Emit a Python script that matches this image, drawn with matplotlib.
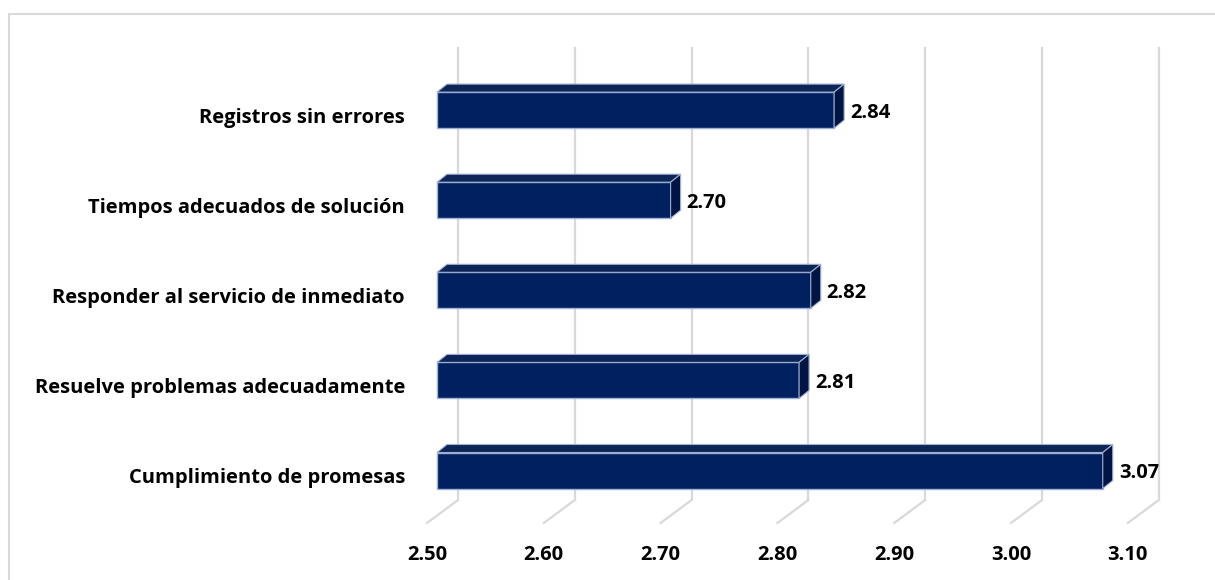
import matplotlib
matplotlib.use('Agg')
import matplotlib.pyplot as plt
from matplotlib.patches import Polygon, Rectangle

# data (bottom to top)
categories = ['Cumplimiento de promesas', 'Resuelve problemas adecuadamente',
              'Responder al servicio de inmediato', 'Tiempos adecuados de solución',
              'Registros sin errores']
values = [3.07, 2.81, 2.82, 2.70, 2.84]
ticks = [2.50, 2.60, 2.70, 2.80, 2.90, 3.00, 3.10]
xmin = 2.50

plt.rcParams['font.family'] = ['Open Sans', 'DejaVu Sans']

W, H = 1215, 580
fig = plt.figure(figsize=(W / 100, H / 100), dpi=100)
ax = fig.add_axes([0, 0, 1, 1])

# pixel layout of the fake 3d chart
X0 = 437        # px of 2.50 on the bar front plane
S = 1168.0      # px per unit
Y0 = 470.5      # px centre of first bar
DY = 90.1       # px between categories
ax.set_xlim(xmin - X0 / S, xmin + (W - X0) / S)
ax.set_ylim((Y0 - H) / DY, Y0 / DY)
ax.axis('off')

def yp(py):
    # pixel row -> category units
    return (Y0 - py) / DY

fs = 14.5

# back wall gridlines + floor lines
grid_c = '#d9d9d9'
for t in ticks:
    ax.plot([t + 21 / S, t + 21 / S], [yp(500), yp(48)], color=grid_c, lw=1.6, zorder=1)
    ax.plot([t - 10 / S, t + 21 / S], [yp(523), yp(500)], color=grid_c, lw=1.6, zorder=1)
    ax.text(t - 10 / S, yp(555), f'{t:.2f}', ha='center', va='center',
            fontsize=fs, fontweight='bold', color='#000000')

# bars
bh = 36 / DY
ddx = 10 / S
ddy = 8 / DY
front = '#002060'
top_c = '#0d2457'
side_c = '#001544'
edge = '#9fb0d4'
for i, (c, v) in enumerate(zip(categories, values)):
    ax.barh(i, v - xmin, left=xmin, height=bh, color=front, edgecolor=edge, lw=1.0, zorder=3)
    top = [(xmin, i + bh / 2), (v, i + bh / 2), (v + ddx, i + bh / 2 + ddy), (xmin + ddx, i + bh / 2 + ddy)]
    side = [(v, i - bh / 2), (v, i + bh / 2), (v + ddx, i + bh / 2 + ddy), (v + ddx, i - bh / 2 + ddy)]
    ax.add_patch(Polygon(top, closed=True, facecolor=top_c, edgecolor=edge, lw=0.8, zorder=4))
    ax.add_patch(Polygon(side, closed=True, facecolor=side_c, edgecolor=edge, lw=0.8, zorder=4))
    ax.text(v + ddx + 6 / S, i - 3 / DY, f'{v:.2f}', ha='left', va='center',
            fontsize=fs, fontweight='bold', color='#000000')
    ax.text(xmin - 32 / S, i - 8 / DY, c, ha='right', va='center',
            fontsize=fs, fontweight='bold', color='#000000')

# chart frame
ax.add_patch(Rectangle((9 / W, -0.5), 2, 1.5 - 14 / H, transform=ax.transAxes,
                       fill=False, edgecolor='#d9d9d9', lw=1.5, zorder=0))

fig.savefig('out.png', dpi=100)
